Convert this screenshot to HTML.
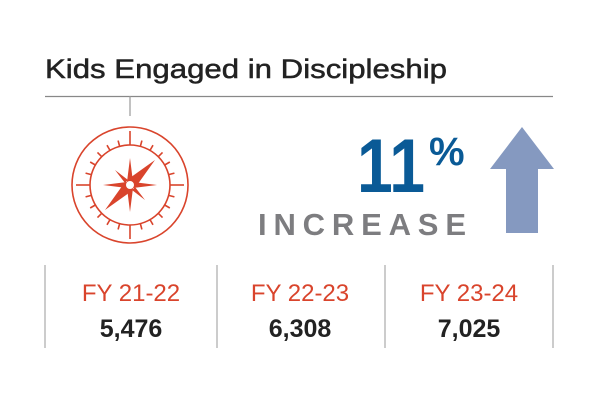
<!DOCTYPE html>
<html><head><meta charset="utf-8"><style>html,body{margin:0;padding:0;background:#fff}svg{display:block}</style></head>
<body>
<svg width="600" height="400" viewBox="0 0 600 400" xmlns="http://www.w3.org/2000/svg" font-family="Liberation Sans, sans-serif">
<rect width="600" height="400" fill="#fff"/>
<text x="45" y="78" font-size="27" fill="#222" stroke="#222" stroke-width="0.5" textLength="402" lengthAdjust="spacingAndGlyphs">Kids Engaged in Discipleship</text>
<line x1="45" y1="96.5" x2="553" y2="96.5" stroke="#888" stroke-width="1.2"/>
<line x1="130" y1="96" x2="130" y2="116" stroke="#999" stroke-width="1.2"/>
<g transform="translate(130,185)" stroke="#d9442c" fill="none">
<circle r="58" stroke-width="1.6"/>
<circle r="40" stroke-width="1.6"/>
<g stroke-width="1.6">
<line x1="0" y1="-54" x2="0" y2="-40"/><line x1="0" y1="54" x2="0" y2="40"/>
<line x1="-54" y1="0" x2="-40" y2="0"/><line x1="54" y1="0" x2="40" y2="0"/>
<g id="t"><line x1="0" y1="-46" x2="0" y2="-40" transform="rotate(15)"/><line x1="0" y1="-46" x2="0" y2="-40" transform="rotate(30)"/><line x1="0" y1="-46" x2="0" y2="-40" transform="rotate(45)"/><line x1="0" y1="-46" x2="0" y2="-40" transform="rotate(60)"/><line x1="0" y1="-46" x2="0" y2="-40" transform="rotate(75)"/></g>
<use href="#t" transform="rotate(90)"/><use href="#t" transform="rotate(180)"/><use href="#t" transform="rotate(270)"/>
</g>
<g fill="#d9442c" stroke="none">
<polygon points="0,-27 3,-3 0,0 -3,-3"/><polygon points="0,27 3,3 0,0 -3,3"/>
<polygon points="-27,0 -3,-3 0,0 -3,3"/><polygon points="27,0 3,-3 0,0 3,3"/>
<polygon points="25,-25 5,3 -3,-5"/><polygon points="-25,25 -5,-3 3,5"/>
<polygon points="-15,-15 -2,-5 -5,-2"/><polygon points="15,15 2,5 5,2"/>
</g>
<circle r="4" fill="#fff" stroke="none"/>
</g>
<text x="357" y="192" font-size="76" font-weight="bold" fill="#0a5a96" textLength="68" lengthAdjust="spacingAndGlyphs">11</text>
<text x="429" y="165" font-size="40" font-weight="bold" fill="#0a5a96">%</text>
<text x="258" y="235" font-size="31" font-weight="bold" fill="#7d7d80" textLength="208" lengthAdjust="spacing">INCREASE</text>
<polygon points="522,127 554,169 538,169 538,233 506,233 506,169 490,169" fill="#8599c0"/>
<g stroke="#aaa" stroke-width="1.2">
<line x1="45" y1="265" x2="45" y2="348"/><line x1="217" y1="265" x2="217" y2="348"/>
<line x1="385" y1="265" x2="385" y2="348"/><line x1="553" y1="265" x2="553" y2="348"/>
</g>
<g font-size="24" fill="#d9442c" text-anchor="middle">
<text x="131" y="301">FY 21-22</text><text x="300" y="301">FY 22-23</text><text x="469" y="301">FY 23-24</text>
</g>
<g font-size="25" font-weight="bold" fill="#222" text-anchor="middle">
<text x="131" y="337">5,476</text><text x="300" y="337">6,308</text><text x="469" y="337">7,025</text>
</g>
</svg>
</body></html>
